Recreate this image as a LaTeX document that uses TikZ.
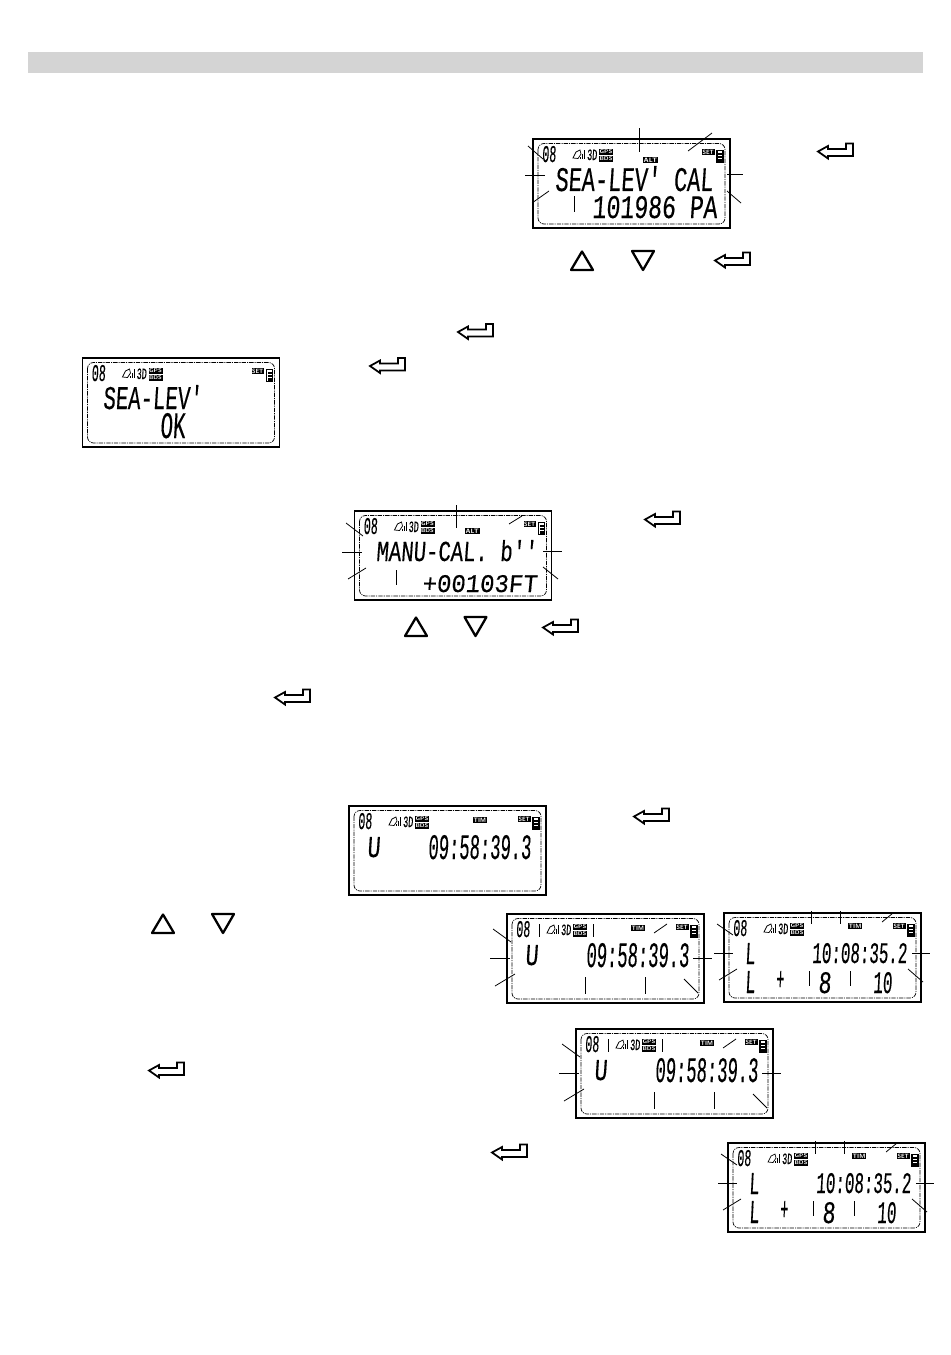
\documentclass[tikz,border=0pt]{standalone}
\usepackage{fontspec}
\usepackage{graphicx}
\setmainfont{Liberation Sans}
\newfontfamily\lcdf{Liberation Mono}[FakeSlant=0.1,FakeBold=0.35]
\newdimen\px \px=0.02cm
\newdimen\tagw \newdimen\tagh
\tikzset{
  outerframe/.style={draw=black,line width=0.75pt},
  innerframe/.style={draw=black,line width=0.4pt,rounded corners=0.12cm,dash pattern=on 2.5pt off 0.6pt on 0.6pt off 0.6pt},
  leader/.style={draw=black,line width=0.45pt},
  retarrow/.style={draw=black,line width=1pt,fill=white,line join=miter},
  keytri/.style={draw=black,line width=1.3pt,line join=round,fill=white},
  lcdtext/.style={inner sep=0pt,outer sep=0pt,anchor=north west},
  tagbox/.style={fill=black,inner sep=0pt,outer sep=0pt,anchor=north west}
}
% #1 name, #2 x, #3 y, #4 w, #5 h, #6 text
\newcommand{\lcd}[6]{\node[lcdtext] (#1) at (#2,#3) {\resizebox{#4\px}{#5\px}{\lcdf #6}};}
\newcommand{\lcdtag}[6]{\tagw=#4\px \advance\tagw by -1.2\px \tagh=#5\px \advance\tagh by -1.6\px
  \node[tagbox,minimum width=#4*0.02cm,minimum height=#5*0.02cm] (#1) at (#2,#3) {\resizebox{\tagw}{\tagh}{\color{white}\sffamily\bfseries #6}};}
\newcommand{\retkey}[3]{\draw[retarrow] (#2,#3) +(0,8.5) -- +(10,3) -- +(10,6) -- +(28,6) -- +(28,0.5) -- +(35,0.5) -- +(35,13) -- +(10,13) -- +(10,15.5) -- cycle;}
\newcommand{\upkey}[2]{\draw[keytri] (#1,#2) +(1,20) -- +(12,1.5) -- +(23,20) -- cycle;}
\newcommand{\downkey}[2]{\draw[keytri] (#1,#2) +(1,1) -- +(23,1) -- +(12,20) -- cycle;}
% base panel: #1 name, #2 x, #3 y
\newcommand{\panelbase}[3]{%
  \begin{scope}[shift={(#2,#3)}]
    \draw[outerframe] (0,0) rectangle (197,89);
    \draw[innerframe] (5,4.5) rectangle (192,85);
    \lcd{#1-sats}{9}{7}{14}{16}{08}
    % signal icon
    \draw[line width=0.4pt,fill=white] (40,19) -- (43,13) -- (47,11) -- (48,15) -- (45,19.5) -- cycle;
    \fill (47,20) rectangle (48.3,17.5);
    \fill (49,20) rectangle (50.3,15);
    \fill (51,20) rectangle (52.3,11);
    \node[lcdtext] (#1-fix) at (54,10.5) {\resizebox{10\px}{10.5\px}{\lcdf 3D}};
    \lcdtag{#1-gps}{66}{10}{14}{5.5}{GPS}
    \lcdtag{#1-bds}{66}{17}{14}{5.5}{BDS}
    \lcdtag{#1-set}{169}{10}{12.5}{6}{SET}
    \draw[line width=0.6pt] (184,11.5) rectangle (190,23.5);
    \fill (185,13.5) rectangle (189,15.8);
    \fill (185,16.6) rectangle (189,18.9);
    \fill (185,19.7) rectangle (189,22.6);
  \end{scope}}
% UTC time panel
\newcommand{\panelU}[3]{%
  \panelbase{#1}{#2}{#3}
  \begin{scope}[shift={(#2,#3)}]
    \lcdtag{#1-tim}{124}{11}{13.5}{6}{TIM}
    \lcd{#1-u}{18}{31}{13}{20}{U}
    \lcd{#1-time}{79}{29}{103}{24}{09:58:39.3}
  \end{scope}}
\newcommand{\leadU}[2]{%
  \begin{scope}[shift={(#1,#2)}]
    \draw[leader] (-14,15) -- (4,28);
    \draw[leader] (-17,44) -- (3,44);
    \draw[leader] (-12,72) -- (8,60);
    \draw[leader] (32,10) -- (32,23);
    \draw[leader] (86,10) -- (86,23);
    \draw[leader] (160,10) -- (147,19);
    \draw[leader] (186,44) -- (205,44);
    \draw[leader] (78,63) -- (78,80);
    \draw[leader] (138,63) -- (138,80);
    \draw[leader] (177,65) -- (191,79);
  \end{scope}}
% local time panel
\newcommand{\panelL}[3]{%
  \panelbase{#1}{#2}{#3}
  \begin{scope}[shift={(#2,#3)}]
    \lcdtag{#1-tim}{124}{10}{14}{6}{TIM}
    \lcd{#1-l}{21}{30}{10}{21}{L}
    \lcd{#1-time}{88}{30}{95}{20}{10:08:35.2}
    \lcd{#1-lb}{21}{58}{10}{22}{L}
    \lcd{#1-plus}{52}{58}{8}{19}{+}
    \lcd{#1-h}{94}{59}{13}{21}{8}
    \lcd{#1-m}{149}{59}{19}{21}{10}
    \draw[leader] (85,58) -- (85,73);
    \draw[leader] (126,58) -- (126,73);
    \draw[leader] (87,-2) -- (87,11);
    \draw[leader] (116,-2) -- (116,11);
    \draw[leader] (169,0) -- (158,9);
    \draw[leader] (-7,11) -- (9,22);
    \draw[leader] (-10,40) -- (9,40);
    \draw[leader] (-5,67) -- (13,56);
    \draw[leader] (188,40) -- (206,40);
    \draw[leader] (184,56) -- (199,69);
  \end{scope}}
\begin{document}
\begin{tikzpicture}[x=0.02cm,y=-0.02cm]
\useasboundingbox (0,0) rectangle (950,1355);
\fill[white] (0,0) rectangle (950,1355);
\fill[black!17] (28,52) rectangle (923,73);

% panel 1
\panelbase{pa}{533}{139}
\lcdtag{pa-alt}{643}{157}{15}{6}{ALT}
\lcd{pa-top}{555}{166}{158}{25}{SEA-LEV' CAL}
\lcd{pa-bot}{592}{196}{125}{22}{101986 PA}
\draw[leader] (639,128) -- (639,152);
\draw[leader] (712,133) -- (688,151);
\draw[leader] (528,146) -- (543,159);
\draw[leader] (525,175) -- (545,175);
\draw[leader] (532,203) -- (549,191);
\draw[leader] (574,196) -- (574,212);
\draw[leader] (727,174.5) -- (743,174.5);
\draw[leader] (727,191) -- (741,203);

% panel 2
\panelbase{pb}{82.5}{358}
\lcd{pb-top}{103}{385}{99}{24}{SEA-LEV'}
\lcd{pb-bot}{160}{413}{25}{25}{OK}

% panel 3
\panelbase{pc}{354.5}{511}
\lcdtag{pc-alt}{465}{528}{14.5}{6}{ALT}
\lcd{pc-top}{376}{540}{161}{21}{MANU-CAL. b''}
\lcd{pc-bot}{422}{575}{115}{17}{+00103FT}
\draw[leader] (456,505) -- (456,528);
\draw[leader] (522,516) -- (509,524);
\draw[leader] (346,523) -- (363,536);
\draw[leader] (342,552) -- (362,552);
\draw[leader] (348,579) -- (366,568);
\draw[leader] (396,570) -- (396,585);
\draw[leader] (543,551) -- (562,551);
\draw[leader] (543,567) -- (558,579);

% time panels
\panelU{pd}{349}{806}
\panelU{pe}{507}{914}
\leadU{507}{914}
\panelL{pf}{724}{913}
\panelU{pg}{576}{1029}
\leadU{576}{1029}
\panelL{ph}{728}{1143}

% keys
\retkey{ka}{818}{143}
\upkey{570}{250}
\downkey{631}{250}
\retkey{kb}{715}{252}
\retkey{kc}{458}{323.5}
\retkey{kd}{370}{357.5}
\retkey{ke}{645}{511}
\upkey{404}{616}
\downkey{463.5}{616}
\retkey{kf}{543}{619}
\retkey{kg}{275}{689}
\retkey{kh}{634}{808}
\upkey{151}{913}
\downkey{211}{913}
\retkey{ki}{149}{1062}
\retkey{kj}{492}{1144}
\end{tikzpicture}
\end{document}
